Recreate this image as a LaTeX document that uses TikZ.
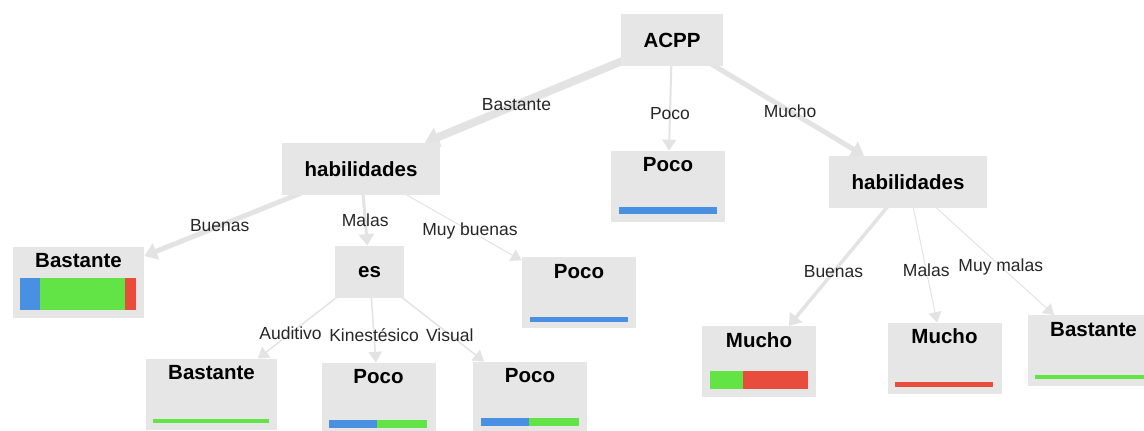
\documentclass[tikz,border=0pt]{standalone}
\usepackage{fontspec}
\setmainfont{Liberation Sans}
\usetikzlibrary{positioning,arrows.meta,backgrounds}

\definecolor{boxgray}{HTML}{E6E6E6}
\definecolor{linkgray}{HTML}{E3E3E3}
\definecolor{barblue}{HTML}{4A90E2}
\definecolor{bargreen}{HTML}{62E346}
\definecolor{barred}{HTML}{E74C3C}

\begin{document}
\begin{tikzpicture}[>={Triangle[length=5pt 0.5,width=6pt 1]},on grid,
  split node/.style={fill=boxgray,inner xsep=11.5pt,minimum height=26pt,font=\fontsize{10.25}{12}\selectfont\bfseries},
  leaf node/.style={fill=boxgray,inner sep=0pt,minimum width=57pt,text height=10.5pt,text depth=25pt,font=\fontsize{10.25}{12}\selectfont\bfseries},
  wide/.style={minimum width=65.5pt},
  link/.style={->,draw=linkgray},
  cond/.style={font=\fontsize{8.75}{10}\selectfont,text=black!85}]

            \useasboundingbox (0,0) rectangle (572pt,-215.5pt);

            \node[split node] (acpp) at (336pt,-20.25pt) {ACPP};
            \node[leaf node] (poco0) [below left=73pt and 2pt of acpp] {Poco};
            \node[split node] (habL) [below left=64.25pt and 155.5pt of acpp] {habilidades};
            \node[split node] (habR) [below right=70.75pt and 118pt of acpp] {habilidades};
            \node[leaf node, wide] (bast1) [below left=56.75pt and 141.25pt of habL] {Bastante};
            \node[split node] (es) [below right=51.5pt and 4.25pt of habL] {es};
            \node[leaf node] (poco1) [below right=62pt and 109pt of habL] {Poco};
            \node[leaf node, wide] (bast2) [below left=61.25pt and 79pt of es] {Bastante};
            \node[leaf node] (poco2) [below right=63.25pt and 4.5pt of es] {Poco};
            \node[leaf node] (poco3) [below right=62.75pt and 80.25pt of es] {Poco};
            \node[leaf node] (mucho1) [below left=90pt and 74.5pt of habR] {Mucho};
            \node[leaf node] (mucho2) [below right=88.25pt and 18.25pt of habR] {Mucho};
            \node[leaf node, wide] (bast3) [below right=84.5pt and 92.75pt of habR] {Bastante};

            \begin{scope}[on background layer]
            \draw[link, line width=4pt] (acpp.center) -- (habL);
            \draw[link, line width=1pt] (acpp.center) -- (poco0);
            \draw[link, line width=2.5pt] (acpp.center) -- (habR);
            \draw[link, line width=2.5pt] (habL.center) -- (bast1);
            \draw[link, line width=1.5pt] (habL.center) -- (es);
            \draw[link, line width=0.5pt] (habL.center) -- (poco1);
            \draw[link, line width=0.75pt] (es.center) -- (bast2);
            \draw[link, line width=0.75pt] (es.center) -- (poco2);
            \draw[link, line width=0.75pt] (es.center) -- (poco3);
            \draw[link, line width=1.75pt] (habR.center) -- (mucho1);
            \draw[link, line width=0.5pt] (habR.center) -- (mucho2);
            \draw[link, line width=0.5pt] (habR.center) -- (bast3);
            \end{scope}

            \path (acpp.center) -- node[cond] {Bastante} (habL.center);
            \path (acpp.center) -- node[cond] {Poco} (poco0.center);
            \path (acpp.center) -- node[cond] {Mucho} (habR.center);
            \path (habL.center) -- node[cond] {Buenas} (bast1.center);
            \path (habL.center) -- node[cond] {Malas} (es.center);
            \path (habL.center) -- node[cond] {Muy buenas} (poco1.center);
            \path (es.center) -- node[cond] {Auditivo} (bast2.center);
            \path (es.center) -- node[cond] {Kinestésico} (poco2.center);
            \path (es.center) -- node[cond] {Visual} (poco3.center);
            \path (habR.center) -- node[cond] {Buenas} (mucho1.center);
            \path (habR.center) -- node[cond] {Malas} (mucho2.center);
            \path (habR.center) -- node[cond] {Muy malas} (bast3.center);

            \fill[barblue] ([shift={(4pt,4pt)}]poco0.south west) rectangle ++(49pt,3.5pt);
            \fill[barblue] ([shift={(3.75pt,4pt)}]bast1.south west) rectangle ++(10pt,16pt);
            \fill[bargreen] ([shift={(13.75pt,4pt)}]bast1.south west) rectangle ++(42.5pt,16pt);
            \fill[barred] ([shift={(56.25pt,4pt)}]bast1.south west) rectangle ++(5.5pt,16pt);
            \fill[barblue] ([shift={(4pt,3.5pt)}]poco1.south west) rectangle ++(49pt,2.5pt);
            \fill[bargreen] ([shift={(3.75pt,3.5pt)}]bast2.south west) rectangle ++(58pt,2pt);
            \fill[barblue] ([shift={(4pt,3pt)}]poco2.south west) rectangle ++(24pt,4pt);
            \fill[bargreen] ([shift={(28pt,3pt)}]poco2.south west) rectangle ++(25pt,4pt);
            \fill[barblue] ([shift={(4pt,3.5pt)}]poco3.south west) rectangle ++(24pt,4pt);
            \fill[bargreen] ([shift={(28pt,3.5pt)}]poco3.south west) rectangle ++(25pt,4pt);
            \fill[bargreen] ([shift={(4pt,4.5pt)}]mucho1.south west) rectangle ++(16.5pt,9pt);
            \fill[barred] ([shift={(20.5pt,4.5pt)}]mucho1.south west) rectangle ++(32.5pt,9pt);
            \fill[barred] ([shift={(4pt,3.5pt)}]mucho2.south west) rectangle ++(49pt,2.5pt);
            \fill[bargreen] ([shift={(3.75pt,4pt)}]bast3.south west) rectangle ++(58pt,2pt);

        \end{tikzpicture}
\end{document}
